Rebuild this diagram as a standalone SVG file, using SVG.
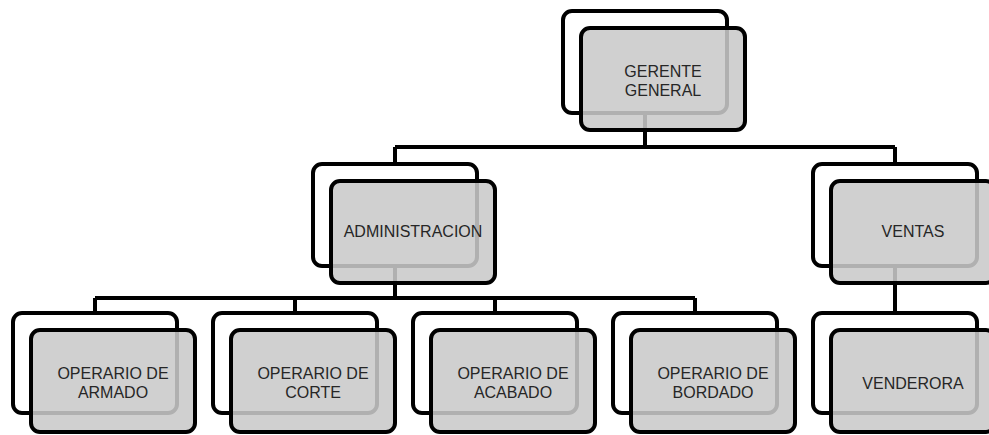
<svg xmlns="http://www.w3.org/2000/svg" width="989" height="435" viewBox="0 0 989 435">
<style>
.bk{fill:#ffffff;stroke:#000000;stroke-width:4}
.fr{fill:#c9c9c9;fill-opacity:0.875;stroke:#000000;stroke-width:4}
.cn{fill:none;stroke:#000000;stroke-width:4}
.t{font-family:"Liberation Sans",Arial,sans-serif;font-size:16px;fill:#262626;text-anchor:middle}
</style>
<rect width="989" height="435" fill="#ffffff"/>
<g id="connectors">
<path class="cn" d="M645 113V147M395 147H895M395 147V164M895 147V164"/>
<path class="cn" d="M395 266V298M95 298H695M95 298V313M295 298V313M495 298V313M695 298V313"/>
<path class="cn" d="M895 266V313"/>
</g>
<g id="gerente">
<rect class="bk" x="563" y="11" width="164" height="102" rx="9"/>
<rect class="fr" x="581" y="28" width="164" height="102" rx="9"/>
<text class="t" x="663" y="76.5">GERENTE</text>
<text class="t" x="663" y="95.5">GENERAL</text>
</g>
<g id="administracion">
<rect class="bk" x="313" y="164" width="164" height="102" rx="9"/>
<rect class="fr" x="331" y="181" width="164" height="102" rx="9"/>
<text class="t" x="413" y="237">ADMINISTRACION</text>
</g>
<g id="ventas">
<rect class="bk" x="813" y="164" width="164" height="102" rx="9"/>
<rect class="fr" x="831" y="181" width="164" height="102" rx="9"/>
<text class="t" x="913" y="237">VENTAS</text>
</g>
<g id="armado">
<rect class="bk" x="13" y="313" width="164" height="100" rx="9"/>
<rect class="fr" x="31" y="330" width="164" height="102" rx="9"/>
<text class="t" x="113" y="378.5">OPERARIO DE</text>
<text class="t" x="113" y="397.5">ARMADO</text>
</g>
<g id="corte">
<rect class="bk" x="213" y="313" width="164" height="100" rx="9"/>
<rect class="fr" x="231" y="330" width="164" height="102" rx="9"/>
<text class="t" x="313" y="378.5">OPERARIO DE</text>
<text class="t" x="313" y="397.5">CORTE</text>
</g>
<g id="acabado">
<rect class="bk" x="413" y="313" width="164" height="100" rx="9"/>
<rect class="fr" x="431" y="330" width="164" height="102" rx="9"/>
<text class="t" x="513" y="378.5">OPERARIO DE</text>
<text class="t" x="513" y="397.5">ACABADO</text>
</g>
<g id="bordado">
<rect class="bk" x="613" y="313" width="164" height="100" rx="9"/>
<rect class="fr" x="631" y="330" width="164" height="102" rx="9"/>
<text class="t" x="713" y="378.5">OPERARIO DE</text>
<text class="t" x="713" y="397.5">BORDADO</text>
</g>
<g id="venderora">
<rect class="bk" x="813" y="313" width="164" height="100" rx="9"/>
<rect class="fr" x="831" y="330" width="164" height="102" rx="9"/>
<text class="t" x="913" y="389">VENDERORA</text>
</g>
</svg>
